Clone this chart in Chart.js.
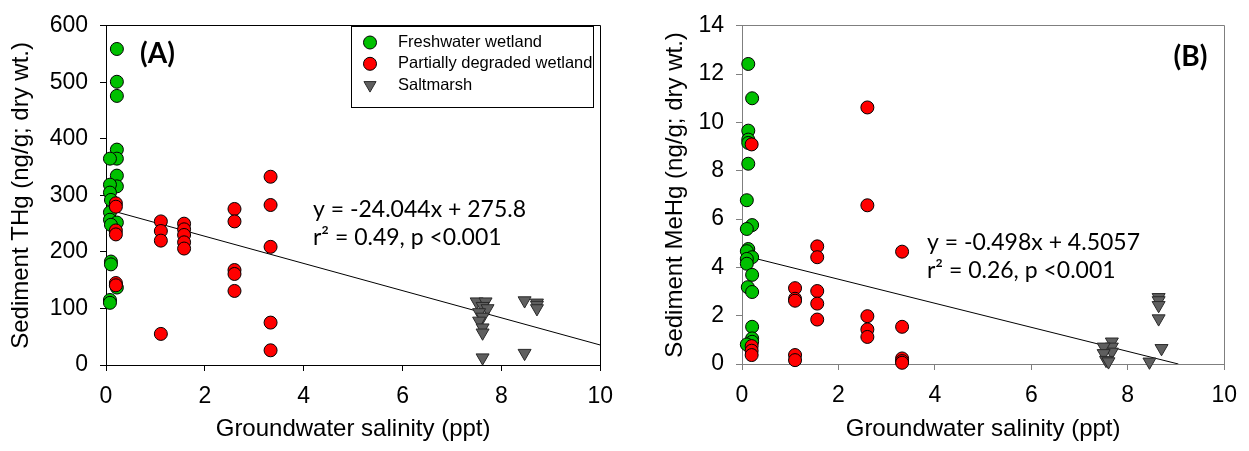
<!DOCTYPE html>
<html>
<head>
<meta charset="utf-8">
<script src="https://cdn.jsdelivr.net/npm/chart.js@4.4.0/dist/chart.umd.min.js"></script>
<style>
  body { margin: 0; background: #fff; width: 1249px; height: 451px; overflow: hidden; position: relative; }
  canvas { position: absolute; top: 0; }
  #chartA { left: 0; }
  #chartB { left: 630px; }
</style>
</head>
<body>
<canvas id="chartA" width="625" height="451"></canvas>
<canvas id="chartB" width="619" height="451"></canvas>
<script>
// ---- Panel A: groundwater salinity (ppt) vs sediment THg (ng/g dry wt.)
const freshSalA = [0.22, 0.22, 0.22, 0.22, 0.22, 0.08, 0.22, 0.22, 0.08, 0.08, 0.1, 0.08, 0.08, 0.22, 0.1, 0.1, 0.1, 0.22, 0.08, 0.08];
const freshTHg  = [559, 501, 476, 381, 365, 365, 335, 316, 319, 305, 292, 270, 257, 252, 248, 183, 178, 137, 115, 110];

const degrSalA = [0.2, 0.2, 0.2, 0.2, 0.2, 0.2, 1.11, 1.11, 1.11, 1.11, 1.58, 1.58, 1.58, 1.58, 1.58, 2.6, 2.6, 2.6, 2.6, 2.6, 3.33, 3.33, 3.33, 3.33, 3.33];
const degrTHg  = [286, 280, 238, 231, 145, 141, 254, 237, 220, 55, 250, 240, 230, 217, 206, 276, 254, 168, 161, 131, 333, 283, 209, 75, 26];

const saltSalA = [7.5, 7.68, 7.62, 7.72, 7.55, 7.62, 7.55, 7.62, 7.62, 7.62, 8.47, 8.72, 8.72, 8.72, 8.47];
const saltTHg  = [112, 112, 104, 100, 93, 85, 78, 66, 57, 13, 114, 110, 106, 100, 21];

const slopeA = -24.044, interceptA = 275.8;
const fitSpanA = [0.08, 10];

// ---- Panel B: groundwater salinity (ppt) vs sediment MeHg (ng/g dry wt.)
const freshSalB = [0.13, 0.21, 0.13, 0.13, 0.13, 0.13, 0.1, 0.21, 0.1, 0.13, 0.1, 0.21, 0.1, 0.1, 0.21, 0.12, 0.21, 0.21, 0.21, 0.21, 0.1];
const freshMeHg = [12.42, 11.0, 9.66, 9.29, 9.15, 8.29, 6.78, 5.75, 5.59, 4.76, 4.67, 4.42, 4.35, 4.15, 3.69, 3.18, 2.98, 1.54, 1.06, 0.92, 0.81];

const degrSalB = [0.2, 0.2, 0.2, 0.2, 1.1, 1.1, 1.1, 1.1, 1.1, 1.56, 1.56, 1.56, 1.56, 1.56, 2.6, 2.6, 2.6, 2.6, 2.6, 3.32, 3.32, 3.32, 3.32, 3.32];
const degrMeHg = [9.09, 0.74, 0.55, 0.37, 3.14, 2.7, 2.62, 0.37, 0.16, 4.87, 4.42, 3.02, 2.5, 1.84, 10.62, 6.57, 1.98, 1.43, 1.12, 4.65, 1.54, 0.23, 0.12, 0.05];

const saltSalB = [8.64, 8.64, 8.64, 8.64, 8.7, 8.45, 7.67, 7.67, 7.67, 7.5, 7.5, 7.55, 7.6];
const saltMeHg = [2.76, 2.63, 2.43, 1.88, 0.65, 0.09, 0.92, 0.71, 0.5, 0.71, 0.44, 0.16, 0.1];

const slopeB = -0.498, interceptB = 4.5057;
const fitSpanB = [0.1, 9.05];

// tick labels
const salinityTicks = [0, 2, 4, 6, 8, 10];
const thgTicks = [0, 100, 200, 300, 400, 500, 600];
const mehgTicks = [0, 2, 4, 6, 8, 10, 12, 14];

const groupNames = ['Freshwater wetland', 'Partially degraded wetland', 'Saltmarsh'];

const pts = (xs, ys) => xs.map((x, i) => ({ x: x, y: ys[i] }));
const fitLine = (span, m, b) => span.map(x => ({ x: x, y: m * x + b }));

function alignPx(v) {
    return Math.round(v - 0.5) + 0.5;
}

// closes the plot box (top + right edges)
const frame = {
    id: 'frame',
    beforeDatasetsDraw(chart, args, opts) {
        const { left, top, right, bottom } = chart.chartArea;
        const ctx = chart.ctx;
        ctx.save();
        ctx.strokeStyle = opts.color;
        ctx.lineWidth = 1;
        ctx.beginPath();
        ctx.moveTo(alignPx(left), alignPx(top));
        ctx.lineTo(alignPx(right), alignPx(top));
        ctx.lineTo(alignPx(right), alignPx(bottom));
        ctx.stroke();
        ctx.restore();
    }
};

// boxed legend inside the plot
const boxLegend = {
    id: 'boxLegend',
    afterDraw(chart, args, opts) {
        if (!opts.show) return;
        const ctx = chart.ctx;
        ctx.save();
        ctx.strokeStyle = '#000';
        ctx.lineWidth = 1;
        ctx.strokeRect(opts.left, opts.top, opts.width, opts.height);
        ctx.font = '16.5px "Liberation Sans"';
        ctx.textBaseline = 'middle';
        chart.data.datasets.filter(d => !d.fit).forEach((d, i) => {
            const y = opts.top + opts.firstRow + i * opts.rowGap;
            ctx.fillStyle = d.backgroundColor;
            ctx.strokeStyle = d.borderColor;
            ctx.lineWidth = d.borderWidth;
            Chart.helpers.drawPoint(ctx, {
                pointStyle: d.pointStyle,
                rotation: d.rotation || 0,
                radius: d.pointStyle === 'triangle' ? 7 : 6.5,
                borderWidth: d.borderWidth
            }, opts.left + opts.markerX, y);
            ctx.fillStyle = '#000';
            ctx.fillText(d.label, opts.left + opts.textX, y);
        });
        ctx.restore();
    }
};

// panel letter and regression text
const notes = {
    id: 'notes',
    afterDraw(chart, args, opts) {
        const ctx = chart.ctx;
        (opts.items || []).forEach(n => {
            ctx.save();
            ctx.font = n.font;
            ctx.fillStyle = '#000';
            ctx.textAlign = n.align || 'left';
            ctx.textBaseline = n.baseline || 'alphabetic';
            ctx.fillText(n.text, n.x, n.y);
            ctx.restore();
        });
    }
};

function datasets(fx, fy, dx, dy, sx, sy, fit, r) {
    return [
        { label: groupNames[0], data: pts(fx, fy), pointStyle: 'circle', pointRadius: r,
          backgroundColor: '#00c000', borderColor: '#000', borderWidth: 1, order: 3, clip: false },
        { label: groupNames[1], data: pts(dx, dy), pointStyle: 'circle', pointRadius: r,
          backgroundColor: '#ff0000', borderColor: '#000', borderWidth: 1, order: 2, clip: false },
        { label: groupNames[2], data: pts(sx, sy), pointStyle: 'triangle', rotation: 180, pointRadius: 7.5,
          backgroundColor: '#5f5f5f', borderColor: '#2a2a2a', borderWidth: 1, order: 1, clip: false },
        { label: 'fit', fit: true, data: fit, showLine: true, pointRadius: 0,
          borderColor: '#000', borderWidth: 1, order: 4 }
    ];
}

function scales(yTicks, yMax, yTitle, yWidth, yTitlePad, xHeight, axisColor) {
    const tickFont = { family: 'Liberation Sans', size: 23 };
    const titleFont = { family: 'Liberation Sans', size: 24 };
    return {
        x: {
            type: 'linear', min: 0, max: 10,
            afterBuildTicks: s => { s.ticks = salinityTicks.map(v => ({ value: v })); },
            afterFit: s => { s.height = xHeight; },
            grid: { drawOnChartArea: false, tickLength: 6, color: axisColor },
            border: { color: axisColor },
            ticks: { color: '#000', font: tickFont, padding: 12, maxRotation: 0, autoSkip: false },
            title: { display: true, text: 'Groundwater salinity (ppt)', color: '#000', font: titleFont,
                     padding: { top: 0, bottom: 7 } }
        },
        y: {
            type: 'linear', min: 0, max: yMax,
            afterBuildTicks: s => { s.ticks = yTicks.map(v => ({ value: v })); },
            afterFit: s => { s.width = yWidth; },
            grid: { drawOnChartArea: false, tickLength: 6, color: axisColor },
            border: { color: axisColor },
            ticks: { color: '#000', font: tickFont, padding: 12, autoSkip: false },
            title: { display: true, text: yTitle, color: '#000', font: titleFont,
                     padding: { top: yTitlePad, bottom: 0 } }
        }
    };
}

Chart.defaults.devicePixelRatio = 1;

new Chart(document.getElementById('chartA'), {
    type: 'scatter',
    data: { datasets: datasets(freshSalA, freshTHg, degrSalA, degrTHg, saltSalA, saltTHg,
                               fitLine(fitSpanA, slopeA, interceptA), 6.5) },
    options: {
        responsive: false,
        animation: false,
        events: [],
        layout: { padding: { left: 0, top: 20, right: 24, bottom: 0 } },
        scales: scales(thgTicks, 600, 'Sediment THg (ng/g; dry wt.)', 106, 7, 86, '#000'),
        plugins: {
            legend: { display: false },
            tooltip: { enabled: false },
            frame: { color: '#000' },
            boxLegend: { show: true, left: 351.5, top: 26.5, width: 242, height: 81,
                         firstRow: 16, rowGap: 21.3, markerX: 18.5, textX: 46.5 },
            notes: { items: [
                { text: '(A)', x: 157.5, y: 54, font: 'bold 28px Lato', align: 'center', baseline: 'middle' },
                { text: 'y = -24.044x + 275.8', x: 313, y: 217, font: '23px Lato' },
                { text: 'r\u00b2 = 0.49, p <0.001', x: 313, y: 245, font: '23px Lato' }
            ] }
        }
    },
    plugins: [frame, boxLegend, notes]
});

new Chart(document.getElementById('chartB'), {
    type: 'scatter',
    data: { datasets: datasets(freshSalB, freshMeHg, degrSalB, degrMeHg, saltSalB, saltMeHg,
                               fitLine(fitSpanB, slopeB, interceptB), 6.5) },
    options: {
        responsive: false,
        animation: false,
        events: [],
        layout: { padding: { left: 0, top: 24, right: 21, bottom: 0 } },
        scales: scales(mehgTicks, 14, 'Sediment MeHg (ng/g; dry wt.)', 112, 31, 87, '#7f7f7f'),
        plugins: {
            legend: { display: false },
            tooltip: { enabled: false },
            frame: { color: '#7f7f7f' },
            boxLegend: { show: false },
            notes: { items: [
                { text: '(B)', x: 560.5, y: 57, font: 'bold 28px Lato', align: 'center', baseline: 'middle' },
                { text: 'y = -0.498x + 4.5057', x: 297, y: 250, font: '23px Lato' },
                { text: 'r\u00b2 = 0.26, p <0.001', x: 297, y: 278, font: '23px Lato' }
            ] }
        }
    },
    plugins: [frame, boxLegend, notes]
});
</script>
</body>
</html>
